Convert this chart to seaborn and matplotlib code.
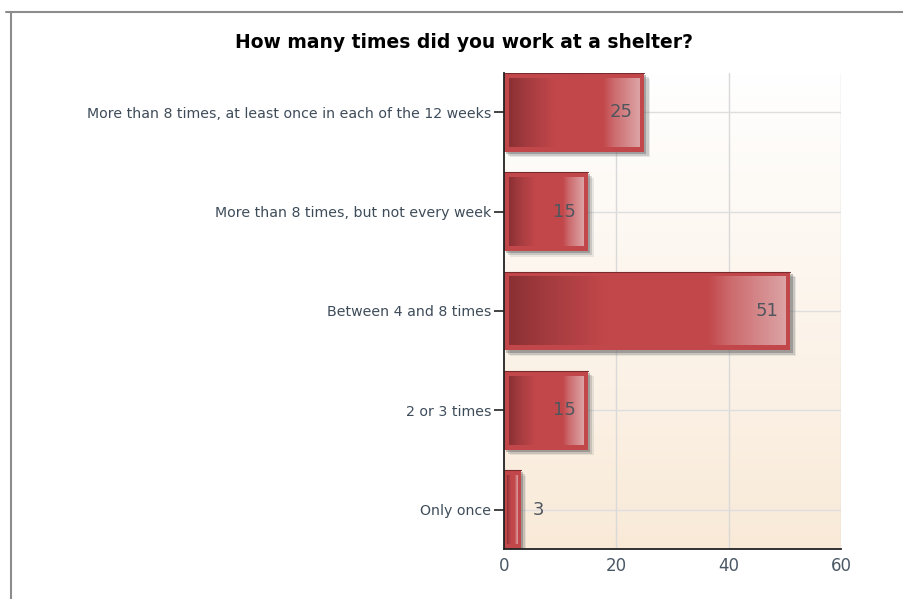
import numpy as np
import pandas as pd
import matplotlib
matplotlib.use("Agg")
import matplotlib.pyplot as plt
import matplotlib.patheffects as pe
from matplotlib.colors import LinearSegmentedColormap
from matplotlib.patches import Rectangle
import seaborn as sns

categories = [
    "More than 8 times, at least once in each of the 12 weeks",
    "More than 8 times, but not every week",
    "Between 4 and 8 times",
    "2 or 3 times",
    "Only once",
]
counts = [25, 15, 51, 15, 3]
x_ticks = [0, 20, 40, 60]
title = "How many times did you work at a shelter?"

sns.set_theme(style="white")
plt.rcParams["font.family"] = ["DejaVu Sans"]

df = pd.DataFrame({"answer": categories, "count": counts})

fig = plt.figure(figsize=(9.04, 5.99), dpi=100)
ax = fig.add_axes([504 / 904, 1 - 549 / 599, 337 / 904, 476 / 599])

bar_w = 0.794
sns.barplot(data=df, x="count", y="answer", orient="h", ax=ax,
            color="#c2474a", width=bar_w, edgecolor="none", saturation=1, zorder=3)

ax.set_xlim(0, 60)
ax.set_ylim(len(categories) - 1 + bar_w / 2, -bar_w / 2)

# background wash: white at top, warm beige at the bottom
bg = LinearSegmentedColormap.from_list("bg", ["#ffffff", "#f9ead8"])
ax.imshow(np.linspace(0, 1, 256).reshape(-1, 1), cmap=bg, aspect="auto",
          extent=[0, 60, len(categories) - 1 + bar_w / 2, -bar_w / 2],
          origin="upper", zorder=0)

# grid
for xv in x_ticks[1:]:
    ax.axvline(xv, color="#d9d9d9", lw=1, zorder=1)
for i in range(len(categories)):
    ax.axhline(i, color="#dedede", lw=1, zorder=1)

px_x = 337 / 60.0
px_y = 476 / (len(categories) - 1 + bar_w)
bar_cmap = LinearSegmentedColormap.from_list(
    "bar", [(0.0, "#8a3034"), (0.12, "#a13a3e"), (0.35, "#c2474a"),
            (0.72, "#c2474a"), (0.8, "#cc6a6d"), (1.0, "#dca3a5")])
grad = np.linspace(0, 1, 256).reshape(1, -1)

for patch in ax.patches:
    if not isinstance(patch, Rectangle) or patch.get_width() <= 0:
        continue
    patch.set_path_effects([
        pe.SimplePatchShadow(offset=(4, -4), shadow_rgbFace="#909090", alpha=0.18),
        pe.SimplePatchShadow(offset=(3, -3), shadow_rgbFace="#707070", alpha=0.25),
        pe.SimplePatchShadow(offset=(1.5, -1.5), shadow_rgbFace="#505050", alpha=0.35),
        pe.Normal(),
    ])
    x0, y0 = patch.get_x(), patch.get_y()
    w, h = patch.get_width(), patch.get_height()
    ix = min(5 / px_x, w * 0.2)
    iy = 5 / px_y
    ax.imshow(grad, cmap=bar_cmap, aspect="auto",
              extent=[x0 + ix, x0 + w - ix, y0 + h - iy, y0 + iy],
              origin="upper", zorder=4, interpolation="bilinear")
    # thin dark outline along the top edge
    ax.plot([x0, x0 + w], [y0, y0], color="#7a2a2d", lw=0.8, zorder=5)

for i, v in enumerate(counts):
    if v * px_x > 40:
        ax.text(v - 12 / px_x, i, str(v), ha="right", va="center",
                fontsize=13, color="#4f565e", zorder=6)
    else:
        ax.text(v + 12 / px_x, i, str(v), ha="left", va="center",
                fontsize=13, color="#4f565e", zorder=6)

ax.set_xticks(x_ticks)
ax.set_xticklabels([str(t) for t in x_ticks], fontsize=12, color="#4a5866")
ax.tick_params(axis="y", labelsize=10.15, labelcolor="#3e4c5a", length=7.5,
               width=1.2, color="#222222", left=True, pad=1.5)
ax.tick_params(axis="x", length=0, pad=6)
ax.set_xlabel("")
ax.set_ylabel("")
for s in ["top", "right"]:
    ax.spines[s].set_visible(False)
for s in ["left", "bottom"]:
    ax.spines[s].set_color("#222222")
    ax.spines[s].set_linewidth(1.3)
    ax.spines[s].set_zorder(7)
ax.grid(False)

fig.text(464 / 904, 1 - 43 / 599, title, ha="center", va="center",
         fontsize=13.5, fontweight="bold", color="#000000")

# outer frame lines
fig.add_artist(plt.Line2D([6 / 904, 1], [1 - 12 / 599, 1 - 12 / 599],
                          color="#8c8c8c", lw=1.5, transform=fig.transFigure))
fig.add_artist(plt.Line2D([11 / 904, 11 / 904], [0, 1 - 12 / 599],
                          color="#8c8c8c", lw=1.5, transform=fig.transFigure))

fig.savefig("out.png", dpi=100)
